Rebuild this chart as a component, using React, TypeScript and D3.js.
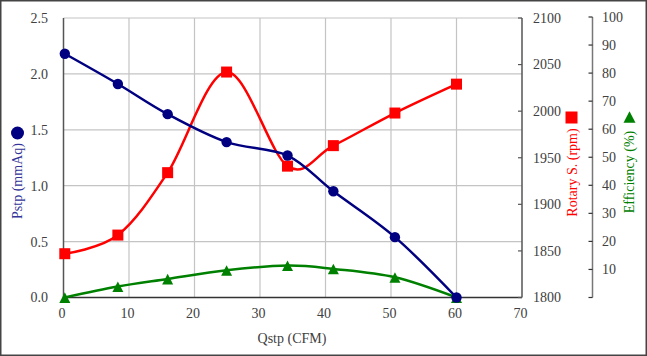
import React from "react";
import * as d3 from "d3";

const qstp = [0.2, 8.3, 15.9, 24.9, 34.2, 41.2, 50.6, 60.0];
const pstp = [2.18, 1.91, 1.64, 1.39, 1.27, 0.95, 0.54, 0.0];
const rotary = [1847, 1867, 1934, 2042, 1941, 1963, 1998, 2029];
const efficiency = [0.0, 3.9, 6.6, 9.7, 11.4, 10.2, 7.2, 0.0];

const xTicks = [0, 10, 20, 30, 40, 50, 60, 70];
const pTicks = [0, 0.5, 1.0, 1.5, 2.0, 2.5];
const rTicks = [1800, 1850, 1900, 1950, 2000, 2050, 2100];
const eTicks = [10, 20, 30, 40, 50, 60, 70, 80, 90, 100];

const W = 647;
const H = 356;
const L = 63.5;
const R = 522;
const T = 18;
const B = 297.5;
const FONT = "'Liberation Serif', 'Times New Roman', serif";

export default function App() {
  const x = d3.scaleLinear().domain([0, 70]).range([L, R]);
  const yP = d3.scaleLinear().domain([0, 2.5]).range([B, T]);
  const yR = d3.scaleLinear().domain([1800, 2100]).range([B, T]);
  const yE = d3.scaleLinear().domain([0, 100]).range([B, 17]);
  const curve = d3.curveCatmullRom.alpha(0);

  const lineP = d3.line<number>().x((_, i) => x(qstp[i])).y((d) => yP(d)).curve(curve);
  const lineR = d3.line<number>().x((_, i) => x(qstp[i])).y((d) => yR(d)).curve(curve);
  const lineE = d3.line<number>().x((_, i) => x(qstp[i])).y((d) => yE(d)).curve(curve);

  const tri = (cx: number, cy: number, s: number) => {
    const h = s * 0.9;
    return `M${cx},${cy - h * 0.62}L${cx + s / 2},${cy + h * 0.45}L${cx - s / 2},${cy + h * 0.45}Z`;
  };

  const tickColor = "#404040";
  const E_AX = 592.5;
  const ts: React.CSSProperties = { fontFamily: FONT, fontSize: "14px" };

  return (
    <svg
      width={W}
      height={H}
      style={{ position: "absolute", left: 0, top: 0, background: "#fff" }}
    >
      <rect x={0.75} y={0.75} width={W - 1.5} height={H - 1.5} fill="#fff" stroke="#444" strokeWidth={1.5} />

      {xTicks.slice(1, -1).map((t) => (
        <line key={"gx" + t} x1={x(t)} x2={x(t)} y1={T} y2={B} stroke="#c4c4c4" strokeWidth={1.2} />
      ))}
      {pTicks.slice(1).map((t) => (
        <line key={"gy" + t} x1={L} x2={R} y1={yP(t)} y2={yP(t)} stroke="#c4c4c4" strokeWidth={1.2} />
      ))}

      <line x1={L} x2={L} y1={T} y2={B} stroke="#555" strokeWidth={1.5} />
      <line x1={L} x2={R} y1={B} y2={B} stroke="#333" strokeWidth={1.5} />
      <line x1={R} x2={R} y1={T} y2={B} stroke="#555" strokeWidth={1.5} />
      {rTicks.map((t) => (
        <line key={"rt" + t} x1={R - 4} x2={R} y1={yR(t)} y2={yR(t)} stroke="#555" strokeWidth={1.2} />
      ))}
      <line x1={E_AX} x2={E_AX} y1={yE(100)} y2={yE(0)} stroke="#777" strokeWidth={1.5} />
      {[0, ...eTicks].map((t) => (
        <line key={"et" + t} x1={E_AX - 4} x2={E_AX} y1={yE(t)} y2={yE(t)} stroke="#333" strokeWidth={1.2} />
      ))}

      {pTicks.map((t) => (
        <text key={"pl" + t} x={48} y={yP(t)} dy="0.35em" textAnchor="end" style={ts} fill={tickColor}>
          {t.toFixed(1)}
        </text>
      ))}
      {xTicks.map((t) => (
        <text key={"xl" + t} x={x(t) - 1.5} y={318} textAnchor="middle" style={ts} fill={tickColor}>
          {t}
        </text>
      ))}
      {rTicks.map((t) => (
        <text key={"rl" + t} x={533} y={yR(t)} dy="0.35em" textAnchor="start" style={ts} fill={tickColor}>
          {t}
        </text>
      ))}
      {eTicks.map((t) => (
        <text key={"el" + t} x={602} y={yE(t)} dy="0.35em" textAnchor="start" style={ts} fill={tickColor}>
          {t}
        </text>
      ))}

      <text x={292} y={343} textAnchor="middle" style={ts} fill={tickColor}>
        Qstp (CFM)
      </text>
      <circle cx={17.5} cy={133} r={6.5} fill="#000080" />
      <text transform="translate(22,181) rotate(-90)" textAnchor="middle" style={ts} fill="#333399">
        Pstp (mmAq)
      </text>
      <rect x={565.5} y={111.5} width={12} height={12} fill="#ff0000" />
      <text transform="translate(576.5,172.5) rotate(-90)" textAnchor="middle" style={ts} fill="#ff0000">
        Rotary S. (rpm)
      </text>
      <path d={tri(629.5, 118, 12)} fill="#008000" />
      <text transform="translate(634,172) rotate(-90)" textAnchor="middle" style={ts} fill="#008000">
        Efficiency (%)
      </text>

      <path d={lineE(efficiency) || ""} fill="none" stroke="#008000" strokeWidth={2.5} />
      <path d={lineR(rotary) || ""} fill="none" stroke="#ff0000" strokeWidth={2.5} />
      <path d={lineP(pstp) || ""} fill="none" stroke="#000080" strokeWidth={2.5} />

      {efficiency.map((d, i) => (
        <path key={"em" + i} d={tri(x(qstp[i]), yE(d) + 1, 11)} fill="#008000" />
      ))}
      {rotary.map((d, i) => (
        <rect key={"rm" + i} x={x(qstp[i]) - 5.5} y={yR(d) - 5.5} width={11} height={11} fill="#ff0000" />
      ))}
      {pstp.map((d, i) => (
        <circle key={"pm" + i} cx={x(qstp[i])} cy={yP(d)} r={5.2} fill="#000080" />
      ))}
    </svg>
  );
}
